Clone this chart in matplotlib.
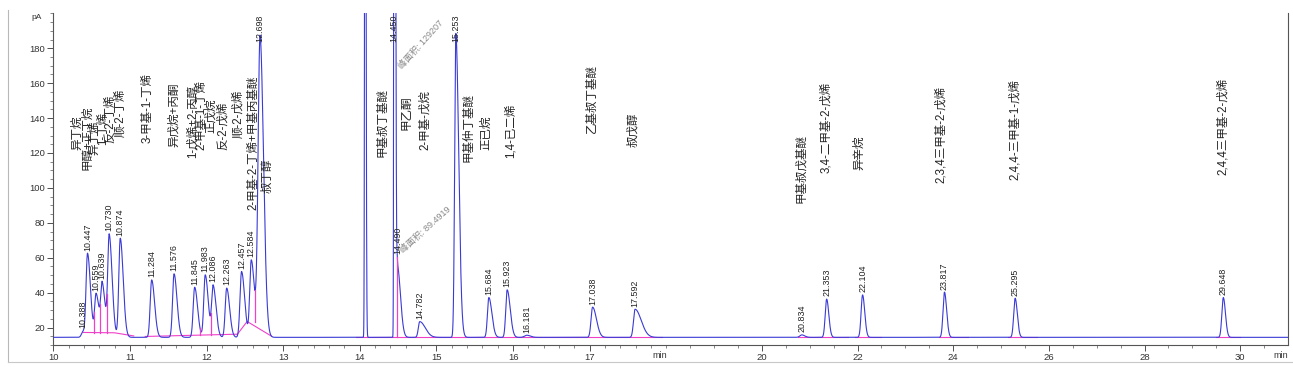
import numpy as np
import matplotlib
matplotlib.use("Agg")
import matplotlib.pyplot as plt
from matplotlib.lines import Line2D

plt.rcParams["font.family"] = ["Liberation Sans", "Noto Sans CJK SC"]

# peak table (retention time, apex in pA)
rt = [10.388, 10.447, 10.559, 10.639, 10.730, 10.874, 11.284, 11.576, 11.845,
      11.983, 12.086, 12.263, 12.457, 12.584, 12.698, 14.070, 14.450, 14.490,
      14.782, 15.253, 15.684, 15.923, 16.181, 17.038, 17.592, 20.834, 21.353,
      22.104, 23.817, 25.295, 29.648]
height = [18.0, 62.6, 39.7, 46.4, 73.7, 71.2, 47.3, 50.8, 43.1,
          50.2, 44.5, 42.6, 52.1, 58.8, 187.5, 600.0, 900.0, 60.5,
          23.4, 188.5, 37.2, 41.6, 15.6, 31.7, 30.5, 15.8, 36.3,
          38.7, 40.3, 36.8, 37.2]
rt_label = ["10.388", "10.447", "10.559", "10.639", "10.730", "10.874", "11.284",
            "11.576", "11.845", "11.983", "12.086", "12.263", "12.457", "12.584",
            "12.698", None, "14.450", "14.490", "14.782", "15.253", "15.684",
            "15.923", "16.181", "17.038", "17.592", "20.834", "21.353", "22.104",
            "23.817", "25.295", "29.648"]
# peak shape: left sigma (min) and tailing factor
sigma = [0.02, 0.019, 0.019, 0.019, 0.019, 0.019, 0.019, 0.019, 0.019,
         0.019, 0.019, 0.019, 0.02, 0.02, 0.025, 0.006, 0.005, 0.008,
         0.018, 0.015, 0.018, 0.018, 0.03, 0.02, 0.02, 0.04, 0.03,
         0.03, 0.03, 0.03, 0.03]
tail = [1.5, 2.0, 2.0, 2.0, 2.0, 2.0, 2.0, 2.0, 2.0,
        2.0, 2.0, 2.0, 2.0, 2.0, 1.8, 1.5, 2.5, 5.0,
        4.0, 2.5, 2.2, 2.2, 1.5, 2.5, 4.0, 1.5, 1.5,
        1.5, 1.5, 1.5, 1.5]
base = 14.4

# compound names (x in min, bottom of text in pA)
names = ["异丁烷", "甲醇+正丁烷", "异丁烯", "1-丁烯", "反-2-丁烯", "顺-2-丁烯",
         "3-甲基-1-丁烯", "异戊烷+丙酮", "1-戊烯+2-丙醇", "2-甲基-1-丁烯", "正戊烷",
         "反-2-戊烯", "顺-2-戊烯", "2-甲基-2-丁烯+甲基丙基醚", "叔丁醇",
         "甲基叔丁基醚", "甲乙酮", "2-甲基-戊烷", "甲基仲丁基醚", "正已烷", "1,4-已二烯",
         "乙基叔丁基醚", "叔戊醇", "甲基叔戊基醚", "3,4-二甲基-2-戊烯", "异辛烷",
         "2,3,4三甲基-2-戊烯", "2,4,4-三甲基-1-戊烯", "2,4,4三甲基-2-戊烯"]
name_x = [10.31, 10.45, 10.54, 10.645, 10.74, 10.87, 11.23, 11.57, 11.82, 11.94,
          12.05, 12.215, 12.41, 12.61, 12.79, 14.29, 14.61, 14.85, 15.42, 15.65,
          15.97, 17.03, 17.57, 20.82, 21.35, 22.04, 23.75, 25.29, 29.64]
name_y = [121.9, 110.4, 119.0, 124.7, 125.8, 129.3, 125.8, 123.6, 117.3, 121.9,
          131.6, 121.9, 128.7, 87.5, 97.2, 117.8, 133.3, 121.9, 115.0, 121.9,
          117.3, 131.6, 123.6, 91.5, 108.7, 110.4, 102.9, 104.6, 107.5]

# integration baselines (magenta) and drop lines
int_lines = [
    ([10.39, 10.80, 11.05], [17.2, 17.0, 15.2]),
    ([11.20, 12.40], [14.9, 16.2]),
    ([12.40, 12.53, 12.85], [16.0, 23.5, 15.0]),
    ([13.95, 17.95], [14.4, 14.4]),
    ([20.75, 21.80], [14.4, 14.4]),
    ([21.95, 22.50], [14.4, 14.4]),
    ([23.70, 24.30], [14.4, 14.4]),
    ([25.14, 25.75], [14.4, 14.4]),
    ([29.50, 30.00], [14.4, 14.4]),
]
drop_t = [10.535, 10.61, 10.70, 11.915, 12.055, 12.63, 14.49]
drop_base = [17.1, 17.1, 17.1, 15.9, 16.0, 23.0, 14.4]


def shape(tt, r, s, k):
    z = np.where(tt < r, (tt - r) / s, (tt - r) / (s * k))
    return np.exp(-0.5 * z ** 2)


A = np.array([[shape(ri, rj, sj, kj) for rj, sj, kj in zip(rt, sigma, tail)] for ri in rt])
amp = np.linalg.solve(A, np.array(height) - base)
t = np.linspace(10, 31, 80000)
signal = base + sum(a * shape(t, r, s, k) for a, r, s, k in zip(amp, rt, sigma, tail))

# broken time axis: 10-18 min wide, 18-31 min compressed
brk, k1, k2 = 18.0, 76.6, 47.8


def fwd(x):
    x = np.asarray(x, float)
    return np.where(x <= brk, (x - 10) * k1, (brk - 10) * k1 + (x - brk) * k2)


def inv(u):
    u = np.asarray(u, float)
    ub = (brk - 10) * k1
    return np.where(u <= ub, 10 + u / k1, brk + (u - ub) / k2)


fig = plt.figure(figsize=(12.93, 3.67), dpi=100)
ax = fig.add_axes([0.0412, 0.0599, 0.9549, 0.9038])
ax.set_xscale("function", functions=(fwd, inv))
ax.set_xlim(10, 31)
ax.set_ylim(10, 200)

ax.plot(t, signal, color="#3a3ad6", lw=0.8, zorder=3)
for xs, ys in int_lines:
    ax.plot(xs, ys, color="#f040c8", lw=0.8, zorder=2)
for dt, db in zip(drop_t, drop_base):
    ax.plot([dt, dt], [db, np.interp(dt, t, signal)], color="#f040c8", lw=0.9, zorder=4)

for r, h, lab in zip(rt, height, rt_label):
    if lab:
        ax.text(r, min(h + 1.5, 183.5), lab, rotation=90, ha="center", va="bottom",
                fontsize=6.4, color="#222222", zorder=5)

for x, y, n in zip(name_x, name_y, names):
    ax.text(x, y, n, rotation=90, ha="center", va="bottom", fontsize=8.3, color="#222222")

ax.text(14.53, 169, "峰面积: 129207", rotation=48, rotation_mode="anchor",
        ha="left", va="center", fontsize=6.5, color="#888888")
ax.text(14.54, 63.5, "峰面积: 89.4919", rotation=42, rotation_mode="anchor",
        ha="left", va="center", fontsize=6.5, color="#888888")

major_x = [10, 11, 12, 13, 14, 15, 16, 17, 20, 22, 24, 26, 28, 30]
minor_x = list(np.arange(10, 18.01, 0.2)) + list(np.arange(18.5, 31, 0.5))
ax.set_xticks(major_x)
ax.set_xticklabels([str(v) for v in major_x])
ax.set_xticks(minor_x, minor=True)
ax.set_yticks(range(20, 181, 20))
ax.set_yticks(range(10, 201, 5), minor=True)
ax.tick_params(axis="both", which="major", labelsize=6.8, length=4, width=0.6,
               colors="#333333", pad=2)
ax.tick_params(axis="both", which="minor", length=2, width=0.5, colors="#555555")

tr = ax.get_xaxis_transform()
ax.text(17.92, -0.018, "min", transform=tr, ha="center", va="top", fontsize=6.5, color="#333333")
ax.text(31.0, -0.018, "min", transform=tr, ha="right", va="top", fontsize=6.5, color="#333333")
fig.text(0.0286, 0.951, "pA", fontsize=6, color="#333333", ha="center", va="center")

ax.spines["top"].set_visible(False)
for s in ["left", "bottom", "right"]:
    ax.spines[s].set_color("#555555")
    ax.spines[s].set_linewidth(0.8)

# screenshot window frame
fig.add_artist(Line2D([8 / 1293, 8 / 1293], [5 / 367, 1 - 10 / 367], color="#b8b8b8", lw=0.8))
fig.add_artist(Line2D([8 / 1293, 1], [5 / 367, 5 / 367], color="#c8c8c8", lw=0.8))

fig.savefig("out.png", dpi=100)
